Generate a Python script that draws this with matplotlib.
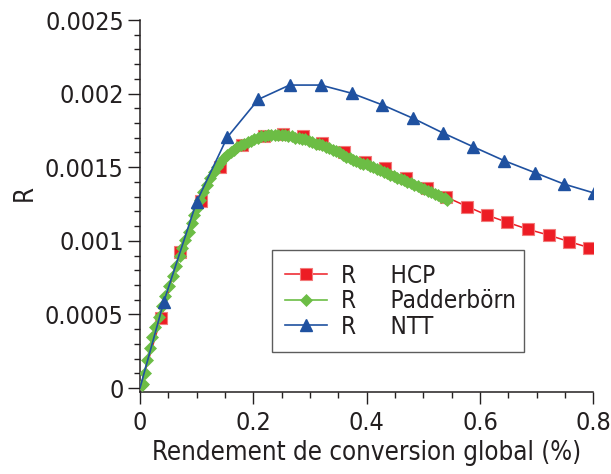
import matplotlib
matplotlib.use("Agg")
import matplotlib.pyplot as plt
from matplotlib.ticker import MultipleLocator, FuncFormatter

plt.rcParams['font.family'] = ['DejaVu Sans']
plt.rcParams['font.stretch'] = 'condensed'

# R vs overall conversion efficiency
hcp_x = [0.0, 0.037, 0.071, 0.108, 0.141, 0.180, 0.218, 0.252, 0.288, 0.322, 0.360, 0.397,
         0.432, 0.469, 0.506, 0.540, 0.578, 0.612, 0.648, 0.685, 0.721, 0.758, 0.793, 0.829]
hcp_r = [0.0, 0.000474, 0.000926, 0.00127, 0.001503, 0.001651, 0.001712, 0.001726, 0.001712,
         0.001662, 0.001605, 0.001537, 0.001493, 0.001425, 0.001357, 0.001298, 0.001232,
         0.001175, 0.001126, 0.001078, 0.001039, 0.000994, 0.000953, 0.00091]

ntt_x = [0.0, 0.042, 0.100, 0.154, 0.209, 0.264, 0.319, 0.374, 0.428, 0.482, 0.534, 0.588,
         0.643, 0.697, 0.748, 0.802]
ntt_r = [0.0, 0.000586, 0.001266, 0.001703, 0.001961, 0.002058, 0.002058, 0.002002, 0.001923,
         0.001832, 0.001734, 0.001639, 0.001544, 0.001463, 0.001386, 0.001324]

pad_x = [0.003, 0.005, 0.008, 0.0125, 0.017, 0.022, 0.027, 0.033, 0.039, 0.045, 0.051, 0.058,
         0.064, 0.070, 0.075, 0.080, 0.086, 0.091, 0.096, 0.101,
         0.106, 0.112, 0.118, 0.124, 0.130, 0.136, 0.142, 0.148, 0.154, 0.160, 0.166, 0.172,
         0.178, 0.184, 0.190, 0.196, 0.202, 0.208, 0.214, 0.220, 0.226, 0.232, 0.238, 0.244,
         0.250, 0.256, 0.262, 0.268, 0.274, 0.280, 0.286, 0.292, 0.298, 0.304, 0.310, 0.316,
         0.322, 0.328, 0.334, 0.340, 0.346, 0.352, 0.358, 0.364, 0.370, 0.376, 0.382, 0.388,
         0.394, 0.400, 0.406, 0.412, 0.418, 0.424, 0.430, 0.436, 0.442, 0.448, 0.454, 0.460,
         0.466, 0.472, 0.478, 0.484, 0.490, 0.496, 0.502, 0.508, 0.514, 0.520, 0.526, 0.532,
         0.538, 0.541]
pad_r = [0.00002, 0.000027, 0.000104, 0.00019, 0.00027, 0.000349, 0.000416, 0.000484, 0.000557,
         0.000625, 0.000693, 0.000761, 0.000829, 0.000897, 0.000949, 0.001005, 0.001062,
         0.001119, 0.001175, 0.001221,
         0.00128, 0.00133, 0.00138, 0.00143, 0.00147, 0.00150, 0.00153, 0.00156, 0.00158,
         0.00160, 0.00162, 0.00164, 0.00165, 0.00166, 0.00167, 0.00168, 0.00169, 0.00170,
         0.00171, 0.00171, 0.00172, 0.00172, 0.00172, 0.00172, 0.00172, 0.00172, 0.00171,
         0.00171, 0.00170, 0.00170, 0.00169, 0.00169, 0.00168, 0.00167, 0.00166, 0.00166,
         0.00165, 0.00164, 0.00163, 0.00162, 0.00161, 0.00160, 0.00158, 0.00157, 0.00156,
         0.00155, 0.00154, 0.00153, 0.00152, 0.00152, 0.00151, 0.00150, 0.00149, 0.00148,
         0.00147, 0.00146, 0.00145, 0.00144, 0.00143, 0.00142, 0.00141, 0.00140, 0.00139,
         0.00138, 0.00137, 0.00136, 0.00135, 0.00134, 0.00133, 0.00132, 0.00131, 0.00130,
         0.00129, 0.00128]

labels = ["R     HCP", "R     Padderbörn", "R     NTT"]

red = '#ed1c24'
green = '#6cbd45'
blue = '#1f51a0'
ink = '#231f20'

fig = plt.figure(figsize=(6.11, 4.74), dpi=100)
ax = fig.add_axes([0.2291, 0.1730, 0.7419, 0.7848])

# the origin points carry no marker in the original
ax.plot(hcp_x, hcp_r, color=red, lw=1.1, marker='s', ms=8.5, mfc=red,
        mec='#f27a7a', mew=0.8, markevery=slice(1, None), label=labels[0], zorder=2)
ax.plot(pad_x, pad_r, color=green, lw=1.2, marker='D', ms=6.2, mfc=green,
        mec=green, mew=0.5, label=labels[1], zorder=3)
ax.plot(ntt_x, ntt_r, color=blue, lw=1.2, marker='^', ms=8.5, mfc=blue,
        mec=blue, markevery=slice(1, None), label=labels[2], zorder=4)

ax.set_xlim(0, 0.8)
ax.set_ylim(-0.000027, 0.0025)

ax.xaxis.set_major_locator(MultipleLocator(0.2))
ax.xaxis.set_minor_locator(MultipleLocator(0.05))
ax.yaxis.set_major_locator(MultipleLocator(0.0005))
ax.yaxis.set_minor_locator(MultipleLocator(0.0001))
fmt = FuncFormatter(lambda v, p: '%g' % round(v, 6))
ax.xaxis.set_major_formatter(fmt)
ax.yaxis.set_major_formatter(fmt)

for s in ['top', 'right']:
    ax.spines[s].set_visible(False)
for s in ['left', 'bottom']:
    ax.spines[s].set_color(ink)
    ax.spines[s].set_linewidth(1.1)

ax.tick_params(which='major', direction='out', length=8.6, width=1.0, color=ink,
               labelsize=18, labelcolor=ink, pad=3)
ax.tick_params(which='minor', direction='out', length=4.3, width=1.0, color=ink)
ax.tick_params(axis='x', which='major', pad=5)

ax.set_xlabel("Rendement de conversion global (%)", fontsize=18.5, color=ink, labelpad=4)
ax.set_ylabel("R", fontsize=18.5, color=ink)
ax.yaxis.set_label_coords(-0.225, 0.535)

leg = ax.legend(loc='lower left', bbox_to_anchor=(0.291, 0.1075, 0.556, 0.2665),
                mode='expand', frameon=True, fancybox=False, edgecolor='#333333',
                fontsize=17.5, handlelength=1.7, handletextpad=0.6, borderpad=0.55,
                labelspacing=0.06, borderaxespad=0)
leg.get_frame().set_linewidth(1.0)
for t in leg.get_texts():
    t.set_color(ink)

fig.savefig("out.png", dpi=100)
